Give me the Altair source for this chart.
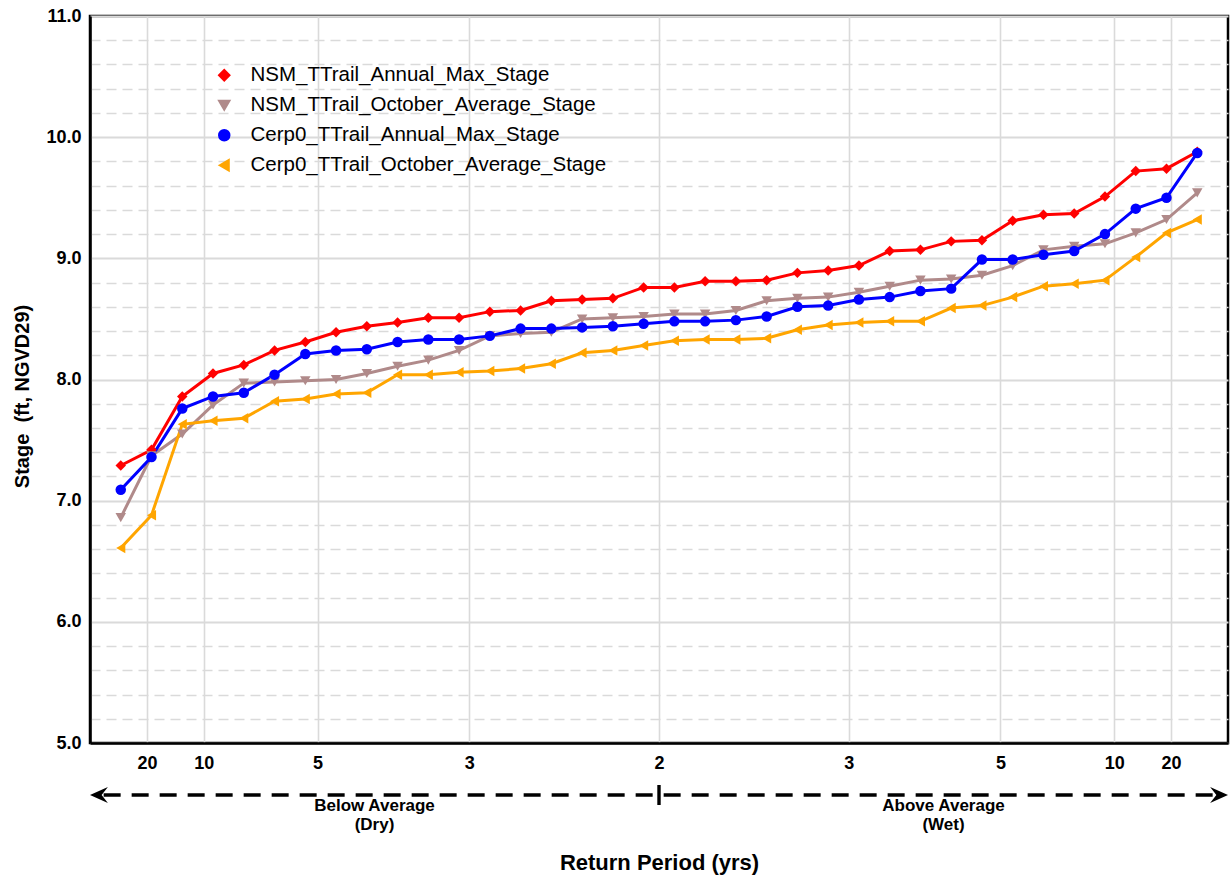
import altair as alt
import pandas as pd

# ---------------- data (stage, ft NGVD29, ranked low -> high) ----------------
series_names = [
    "NSM_TTrail_Annual_Max_Stage",
    "NSM_TTrail_October_Average_Stage",
    "Cerp0_TTrail_Annual_Max_Stage",
    "Cerp0_TTrail_October_Average_Stage",
]
nsm_annual_max = [7.29, 7.42, 7.86, 8.05, 8.12, 8.24, 8.31, 8.39, 8.44, 8.47, 8.51, 8.51,
                  8.56, 8.57, 8.65, 8.66, 8.67, 8.76, 8.76, 8.81, 8.81, 8.82, 8.88, 8.90,
                  8.94, 9.06, 9.07, 9.14, 9.15, 9.31, 9.36, 9.37, 9.51, 9.72, 9.74, 9.88]
nsm_oct_avg = [6.86, 7.37, 7.55, 7.79, 7.97, 7.98, 7.99, 8.00, 8.05, 8.11, 8.16, 8.24,
               8.36, 8.38, 8.39, 8.50, 8.51, 8.52, 8.54, 8.54, 8.57, 8.65, 8.67, 8.68,
               8.72, 8.77, 8.82, 8.83, 8.86, 8.94, 9.07, 9.10, 9.12, 9.21, 9.32, 9.54]
cerp0_annual_max = [7.09, 7.36, 7.76, 7.86, 7.89, 8.04, 8.21, 8.24, 8.25, 8.31, 8.33, 8.33,
                    8.36, 8.42, 8.42, 8.43, 8.44, 8.46, 8.48, 8.48, 8.49, 8.52, 8.60, 8.61,
                    8.66, 8.68, 8.73, 8.75, 8.99, 8.99, 9.03, 9.06, 9.20, 9.41, 9.50, 9.87]
cerp0_oct_avg = [6.61, 6.88, 7.63, 7.66, 7.68, 7.82, 7.84, 7.88, 7.89, 8.04, 8.04, 8.06,
                 8.07, 8.09, 8.13, 8.22, 8.24, 8.28, 8.32, 8.33, 8.33, 8.34, 8.41, 8.45,
                 8.47, 8.48, 8.48, 8.59, 8.61, 8.68, 8.77, 8.79, 8.82, 9.01, 9.21, 9.32]

# return-period tick labels (dry side, centre, wet side)
return_periods_dry = [20, 10, 5, 3]
return_period_mid = 2
return_periods_wet = [3, 5, 10, 20]
side_labels = ["Below Average\n(Dry)", "Above Average\n(Wet)"]

colors = ["#FF0000", "#B08A8A", "#0000FF", "#FFA500"]
shapes = ["diamond", "triangle-down", "circle", "triangle-left"]

# ---------------- build table ----------------
all_series = [nsm_annual_max, nsm_oct_avg, cerp0_annual_max, cerp0_oct_avg]
n = len(nsm_annual_max)
rows = []
for s_idx, (name, vals) in enumerate(zip(series_names, all_series)):
    for i, v in enumerate(vals):
        rank = i + 1
        rows.append({"series": name, "order": s_idx, "rank": rank,
                     "p": rank / (n + 1), "stage": v})
df = pd.DataFrame(rows)

tick_vals = ([1.0 / t for t in return_periods_dry] + [1.0 / return_period_mid]
             + [1.0 - 1.0 / t for t in return_periods_wet])
x_label_expr = "toString(round(datum.value <= 0.5 ? 1/datum.value : 1/(1-datum.value)))"

y_vals = [round(5 + 0.2 * k, 1) for k in range(31)]
is_minor = "abs(datum.value - round(datum.value)) > 0.01"

FONT = "Liberation Sans"

x_enc = alt.X(
    "p:Q",
    scale=alt.Scale(domain=[0, 1], nice=False, zero=False),
    axis=alt.Axis(
        values=tick_vals, tickCount=50, labelExpr=x_label_expr, grid=True, gridColor="#DADADA",
        gridWidth=1.6, ticks=False, domainColor="black", domainWidth=2.5,
        labelFont=FONT, labelFontSize=18, labelFontWeight="bold", labelColor="black",
        labelPadding=11, labelFlush=False, labelOverlap=False,
        title="Return Period (yrs)", titleFont=FONT, titleFontSize=22,
        titleFontWeight="bold", titleColor="black", titleX=569, titleY=119,
        titleBaseline="middle", titleAlign="center", titleAnchor="middle",
    ),
)
y_enc = alt.Y(
    "stage:Q",
    scale=alt.Scale(domain=[5, 11], nice=False, zero=False),
    axis=alt.Axis(
        values=y_vals, tickCount=100,
        labelExpr="abs(datum.value - round(datum.value)) < 0.01 ? format(datum.value, '.1f') : ''",
        grid=True, gridColor="#DADADA",
        gridDash={"condition": {"test": is_minor, "value": [10, 6]}, "value": []},
        gridWidth={"condition": {"test": is_minor, "value": 1.5}, "value": 2},
        ticks=False, domainColor="black", domainWidth=2.5,
        labelFont=FONT, labelFontSize=18, labelFontWeight="bold", labelColor="black",
        labelPadding=9, labelOverlap=False,
        title="Stage\u00a0\u00a0(ft, NGVD29)", titleFont=FONT, titleFontSize=20,
        titleFontWeight="bold", titleColor="black", titleX=-68, titleY=380,
        titleAngle=-90, titleBaseline="middle", titleAlign="center",
    ),
)

color_scale = alt.Scale(domain=series_names, range=colors)
shape_scale = alt.Scale(domain=series_names, range=shapes)

legend = alt.Legend(
    title=None, orient="none", legendX=124, legendY=49,
    labelFont=FONT, labelFontSize=20.5, labelColor="black", labelLimit=600,
    symbolSize=110, rowPadding=9, labelOffset=16, padding=0,
    symbolStrokeWidth=2,
)

base = alt.Chart(df)

lines = base.mark_line(strokeWidth=3).encode(
    x=x_enc, y=y_enc,
    color=alt.Color("series:N", scale=color_scale, legend=legend, sort=series_names),
    detail="series:N",
    order="rank:Q",
)

points = base.mark_point(filled=True, size=110, opacity=1).encode(
    x="p:Q", y="stage:Q",
    color=alt.Color("series:N", scale=color_scale, legend=legend, sort=series_names),
    shape=alt.Shape("series:N", scale=shape_scale, legend=legend, sort=series_names),
)

# ---------------- dry / wet arrow below the axis ----------------
one = pd.DataFrame({"k": [0]})
arrow_y = 779
dash = alt.Chart(one).mark_rule(strokeDash=[17, 11], strokeWidth=3.4, color="black").encode(
    x=alt.datum(0.012), x2=alt.datum(0.988), y=alt.value(arrow_y)
)
left_head = alt.Chart(one).mark_point(
    shape="M0,0L2,-0.9L1.3,0L2,0.9Z", filled=True, color="black", size=320, opacity=1
).encode(x=alt.datum(0.0), y=alt.value(arrow_y))
right_head = alt.Chart(one).mark_point(
    shape="M0,0L-2,-0.9L-1.3,0L-2,0.9Z", filled=True, color="black", size=320, opacity=1
).encode(x=alt.datum(1.0), y=alt.value(arrow_y))
mid_tick = alt.Chart(one).mark_rule(strokeWidth=3.4, color="black").encode(
    x=alt.datum(0.5), y=alt.value(arrow_y - 10), y2=alt.value(arrow_y + 10)
)
side_texts = []
for j, lab in enumerate(side_labels):
    side_texts.append(
        alt.Chart(one).mark_text(
            text=lab, lineBreak="\n", font=FONT, fontSize=17, fontWeight="bold",
            color="black", baseline="top", align="center", lineHeight=19,
        ).encode(x=alt.datum((j + 0.5) / len(side_labels)), y=alt.value(arrow_y + 3))
    )

chart = alt.layer(lines, points, dash, left_head, right_head, mid_tick, *side_texts).properties(
    width=1138, height=727,
    padding={"left": 90, "top": 16, "right": 4, "bottom": 137},
    autosize=alt.AutoSizeParams(type="none"),
    background="white",
).configure_view(stroke="black", strokeWidth=2.5)

chart.save("out.html", embed_options={"renderer": "svg", "actions": False})
